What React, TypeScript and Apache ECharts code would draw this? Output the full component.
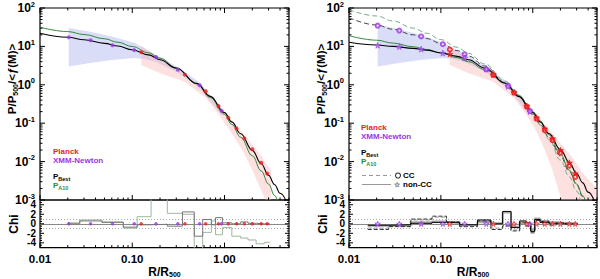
import React, { useEffect, useRef } from "react";
import * as echarts from "echarts";

const FONT = "'Liberation Sans', Arial, Helvetica, sans-serif";
const RED = "#ee1c1c";
const PURPLE = "#9b34e8";
const GREEN = "#2f8a3a";

// ---------- model curves ----------
const R_CURVE = [0.01, 0.02, 0.03, 0.05, 0.07, 0.1, 0.15, 0.2, 0.3, 0.5, 0.7, 1, 1.2, 1.5, 2, 2.5, 3, 3.5, 4, 5];
const BEST_ALL = [22, 17.3, 14.9, 12.0, 10.2, 8.2, 6.0, 4.5, 2.7, 1.09, 0.5, 0.189, 0.108, 0.053, 0.0196, 0.0088, 0.0044, 0.0025, 0.0015, 0.00062];
const A10_ALL = [31.5, 24.3, 20.4, 15.8, 12.8, 9.9, 6.85, 4.95, 2.79, 1.06, 0.47, 0.169, 0.093, 0.043, 0.0142, 0.0057, 0.0026, 0.0013, 0.0007, 0.00025];
const BEST_NONCC = [12.8, 10.9, 10.0, 8.9, 8.0, 6.8, 5.5, 4.5, 2.75, 1.1, 0.5, 0.19, 0.108, 0.054, 0.0205, 0.0095, 0.0049, 0.0028, 0.0016, 0.0006];
const A10_NONCC = [19, 14.5, 12.2, 9.8, 8.3, 6.8, 5.1, 4.0, 2.5, 1.12, 0.54, 0.2, 0.115, 0.05, 0.0156, 0.006, 0.0026, 0.0013, 0.00064, 0.0002];
const BEST_CC = [56, 36, 28, 20, 16, 12, 7.8, 5.6, 3.1, 1.15, 0.5, 0.175, 0.095, 0.043, 0.014, 0.0055, 0.0025, 0.0012, 0.0006, 0.0002];
const A10_CC = [90, 62, 46, 30, 22, 15, 9.5, 6.6, 3.5, 1.25, 0.52, 0.17, 0.09, 0.038, 0.011, 0.004, 0.0017, 0.0008, 0.0004, 0.0001];

// ---------- data points ----------
const R_XMM = [0.0205, 0.0353, 0.061, 0.105, 0.181, 0.312, 0.538, 0.93];
const XMM_ALL = [17.2, 14.4, 10.7, 8.0, 5.3, 2.47, 0.97, 0.21];
const XMM_NONCC = [10.7, 9.9, 8.5, 6.7, 5.0, 2.6, 0.91, 0.2];
const XMM_CC = [34.7, 25.9, 18.2, 11.4, 6.2, 2.5, 0.95, 0.21];
const R_PLANCK = [0.125, 0.372, 0.625, 0.861, 1.1, 1.35, 1.64, 2.0, 2.5, 2.9];
const PLANCK_ALL = [7.1, 1.84, 0.68, 0.28, 0.139, 0.073, 0.04, 0.021, 0.0093, 0.0049];
const PLANCK_NONCC = [6.3, 1.84, 0.64, 0.28, 0.14, 0.072, 0.04, 0.0197, 0.0093, 0.0049];
const PLANCK_CC = [8.3, 1.8, 0.62, 0.27, 0.13, 0.066, 0.036, 0.017, 0.0078, 0.004];

// ---------- dispersion bands ----------
const BAND_XMM_R = [0.0205, 0.035, 0.06, 0.105, 0.13, 0.18, 0.31, 0.54, 0.93];
const BAND_XMM_LO = [3.0, 3.7, 4.4, 5.0, 4.8, 4.0, 2.1, 0.8, 0.16];
const BAND_XMM_HI_L = [30, 24, 18, 12.5, 9.5, 6.0, 2.9, 1.15, 0.25];
const BAND_XMM_HI_R = [37, 28, 20, 12.5, 9.5, 6.5, 3.0, 1.15, 0.25];
const BAND_PL_R_L = [0.125, 0.2, 0.372, 0.625, 0.861, 1.1, 1.35, 1.64, 2.0, 2.5, 2.9, 3.2];
const BAND_PL_LO_L = [3.3, 2.0, 1.2, 0.45, 0.17, 0.075, 0.035, 0.016, 0.006, 0.0018, 0.0008, 0.0005];
const BAND_PL_HI_L = [10.5, 4.8, 1.9, 0.72, 0.3, 0.155, 0.085, 0.05, 0.028, 0.014, 0.008, 0.006];
const BAND_PL_R_R = [0.125, 0.2, 0.372, 0.625, 0.861, 1.1, 1.35, 1.64, 2.0, 2.5, 2.9, 3.5, 5];
const BAND_PL_LO_R = [3.3, 2.0, 1.2, 0.45, 0.16, 0.06, 0.02, 0.006, 0.0012, 0.0003, 0.0001, 0.00005, 0.00002];
const BAND_PL_HI_R = [10, 4.6, 1.95, 0.72, 0.31, 0.16, 0.09, 0.055, 0.03, 0.016, 0.01, 0.005, 0.002];

// ---------- chi residual steps ----------
const CHI_EDGES_L = [0.02, 0.027, 0.047, 0.08, 0.113, 0.16, 0.24, 0.35, 0.47, 0.58, 0.72, 0.8, 0.95, 1.2, 1.5, 1.8, 2.2, 2.7, 3.1];
const CHI_BEST_L = [0.0, 0.6, 0.3, -0.7, -0.2, -0.1, -0.5, 2.5, -2.6, 0.9, -0.2, 1.3, 0.2, 0.0, 0.4, 0.1, 0.0, 0.0];
const CHI_A10_L = [0.2, 0.8, 0.4, -0.9, 1.5, 8, 2.2, 2.0, -8, -1.8, 0.6, -2.3, -0.8, -2.6, -3.0, -3.4, -4.2, -3.9];
const CHI_EDGES_R = [0.016, 0.027, 0.047, 0.08, 0.115, 0.16, 0.25, 0.35, 0.47, 0.58, 0.72, 0.85, 0.95, 1.05, 1.2, 1.5, 1.8, 2.2, 2.7, 3.1];
const CHI_BEST_NONCC = [-0.3, -0.2, 0.1, 0.3, 0.2, -0.2, 0.8, 0.0, 2.6, -0.8, 0.6, 0.2, -1.6, 0.9, 0.3, 0.1, 0.0, 0.0, 0.0];
const CHI_BEST_CC = [-1.2, -0.6, 1.0, 1.6, 0.4, -0.6, 0.6, -1.2, -0.4, -1.5, 0.2, -0.5, -1.9, 0.7, 0.5, -0.2, 0.2, 0.0, 0.0];
const CHI_A10_NONCC = [-0.4, -0.4, 0.3, 0.5, 0.3, -0.3, 0.3, 0.1, 2.4, -0.6, 0.3, 0.0, -1.2, 1.1, 0.6, 0.3, 0.2, 0.1, 0.0];
const CHI_A10_CC = [-0.9, -0.5, 0.8, 1.4, 0.5, -0.2, 0.5, -0.9, -0.5, -1.3, 0.1, -0.4, -1.5, 0.8, 0.4, -0.3, 0.1, 0.0, 0.0];

// ---------- ticks ----------
const X_MAJOR = [0.01, 0.1, 1];
const X_MINOR = [0.02, 0.03, 0.04, 0.05, 0.06, 0.07, 0.08, 0.09, 0.2, 0.3, 0.4, 0.5, 0.6, 0.7, 0.8, 0.9, 2, 3, 4, 5];
const Y_MAJOR = [0.001, 0.01, 0.1, 1, 10, 100];
const MANTISSA = [2, 3, 4, 5, 6, 7, 8, 9];
const Y_MINOR = [-3, -2, -1, 0, 1].flatMap((e) => MANTISSA.map((m) => +(m * Math.pow(10, e)).toPrecision(3)));
const CHI_MAJOR = [-4, -2, 0, 2, 4];
const CHI_MINOR = [-4.5, -3.5, -3, -2.5, -1.5, -1, -0.5, 0.5, 1, 1.5, 2.5, 3, 3.5, 4.5];

const STAR = "path://M50,0 L61,35 L98,35 L68,57 L79,91 L50,70 L21,91 L32,57 L2,35 L39,35 Z";

const pairs = (xs: number[], ys: number[]) => xs.map((x, i) => [x, ys[i]]);

function xTicks(ax: number, refY: number, vals: number[], len: number, top: boolean, bottom: boolean) {
  return {
    type: "custom",
    xAxisIndex: ax,
    yAxisIndex: ax,
    silent: true,
    clip: false,
    z: 10,
    data: vals.map((v) => [v, refY]),
    renderItem: (params: any, api: any) => {
      const cs = params.coordSys;
      const px = api.coord([api.value(0), api.value(1)])[0];
      const children: any[] = [];
      const st = { stroke: "#000", lineWidth: 1 };
      if (bottom) children.push({ type: "line", shape: { x1: px, y1: cs.y + cs.height, x2: px, y2: cs.y + cs.height - len }, style: st });
      if (top) children.push({ type: "line", shape: { x1: px, y1: cs.y, x2: px, y2: cs.y + len }, style: st });
      return { type: "group", children };
    },
  };
}

function yTicks(ax: number, refX: number, vals: number[], len: number) {
  return {
    type: "custom",
    xAxisIndex: ax,
    yAxisIndex: ax,
    silent: true,
    clip: false,
    z: 10,
    data: vals.map((v) => [refX, v]),
    renderItem: (params: any, api: any) => {
      const cs = params.coordSys;
      const py = api.coord([api.value(0), api.value(1)])[1];
      const st = { stroke: "#000", lineWidth: 1 };
      return {
        type: "group",
        children: [
          { type: "line", shape: { x1: cs.x, y1: py, x2: cs.x + len, y2: py }, style: st },
          { type: "line", shape: { x1: cs.x + cs.width, y1: py, x2: cs.x + cs.width - len, y2: py }, style: st },
        ],
      };
    },
  };
}

function band(ax: number, xs: number[], lo: number[], hi: number[], color: string) {
  return {
    type: "custom",
    xAxisIndex: ax,
    yAxisIndex: ax,
    silent: true,
    clip: true,
    z: 1,
    data: xs.map((x, i) => [x, lo[i], hi[i]]),
    encode: { x: 0, y: [1, 2] },
    renderItem: (params: any, api: any) => {
      if (params.dataIndex !== 0) return null;
      const topPts = xs.map((x, i) => api.coord([x, hi[i]]));
      const botPts = xs.map((x, i) => api.coord([x, lo[i]])).reverse();
      return { type: "polygon", shape: { points: topPts.concat(botPts) }, style: { fill: color } };
    },
  };
}

function curve(ax: number, ys: number[], color: string, width: number, dashed = false) {
  return {
    type: "line",
    xAxisIndex: ax,
    yAxisIndex: ax,
    data: pairs(R_CURVE, ys),
    showSymbol: false,
    symbol: "none",
    smooth: 0.4,
    smoothMonotone: "x",
    silent: true,
    z: 3,
    lineStyle: { color, width, type: dashed ? [5, 3] : "solid" },
  };
}

function points(ax: number, xs: number[], ys: number[], color: string, symbol: string, size: number, fill?: string) {
  return {
    type: "scatter",
    xAxisIndex: ax,
    yAxisIndex: ax,
    data: pairs(xs, ys),
    symbol,
    symbolSize: size,
    silent: true,
    z: 5,
    itemStyle: { color: fill || color, borderColor: color, borderWidth: symbol === "circle" ? 0 : 0.8 },
  };
}

function steps(ax: number, edges: number[], vals: number[], color: string, width: number, dashed = false, withRef = false) {
  const s: any = {
    type: "line",
    xAxisIndex: ax,
    yAxisIndex: ax,
    step: "end",
    data: edges.map((e, i) => [e, vals[Math.min(i, vals.length - 1)]]),
    showSymbol: false,
    symbol: "none",
    silent: true,
    z: 3,
    lineStyle: { color, width, type: dashed ? [4, 2] : "solid" },
  };
  if (withRef) {
    s.markLine = {
      silent: true,
      symbol: "none",
      label: { show: false },
      z: 2,
      data: [
        { yAxis: 0, lineStyle: { color: "#888", width: 1, type: "solid" } },
        { yAxis: 1, lineStyle: { color: "#999", width: 0.8, type: [1, 2] } },
        { yAxis: -1, lineStyle: { color: "#999", width: 0.8, type: [1, 2] } },
      ],
    };
  }
  return s;
}

const isDecade = (v: number) => Math.abs(Math.log10(v) - Math.round(Math.log10(v))) < 1e-6;

function xAxis(grid: number, labels: boolean) {
  return {
    type: "log",
    logBase: 10,
    gridIndex: grid,
    min: 0.01,
    max: 5,
    axisLine: { show: false },
    axisTick: { show: false },
    splitLine: { show: false },
    axisLabel: {
      show: labels,
      showMaxLabel: false,
      margin: 5,
      color: "#000",
      fontFamily: FONT,
      fontWeight: "bold",
      fontSize: 11.5,
      formatter: (v: number) => (isDecade(v) ? v.toFixed(2) : ""),
    },
    name: labels ? "R/R{s|500}" : "",
    nameLocation: "middle",
    nameGap: 15,
    nameTextStyle: {
      color: "#000",
      fontFamily: FONT,
      fontWeight: "bold",
      fontSize: 12,
      rich: { s: { fontSize: 7, fontFamily: FONT, fontWeight: "bold", color: "#000", padding: [6, 0, 0, 0] } },
    },
  };
}

function yLogAxis(grid: number) {
  return {
    type: "log",
    logBase: 10,
    gridIndex: grid,
    min: 0.001,
    max: 100,
    axisLine: { show: false },
    axisTick: { show: false },
    splitLine: { show: false },
    axisLabel: {
      margin: 5,
      formatter: (v: number) => `{b|10}{s|${Math.round(Math.log10(v))}}`,
      rich: {
        b: { fontSize: 12, fontWeight: "bold", fontFamily: FONT, color: "#000" },
        s: { fontSize: 7.5, fontWeight: "bold", fontFamily: FONT, color: "#000", padding: [0, 0, 8, 0] },
      },
    },
  };
}

function yChiAxis(grid: number) {
  return {
    type: "value",
    gridIndex: grid,
    min: -5,
    max: 5,
    axisLine: { show: false },
    axisTick: { show: false },
    splitLine: { show: false },
    axisLabel: {
      margin: 4,
      color: "#000",
      fontFamily: FONT,
      fontWeight: "bold",
      fontSize: 10,
      formatter: (v: number) => (Math.round(v) === v && v % 2 === 0 ? String(v) : ""),
    },
  };
}

const txt = (x: number, y: number, text: string, color: string, size = 8, rich: any = undefined, extra: any = {}) => ({
  type: "text",
  x,
  y,
  z: 20,
  ...extra,
  style: {
    text,
    fill: color,
    font: `bold ${size}px ${FONT}`,
    verticalAlign: "middle",
    align: "left",
    ...(rich ? { rich } : {}),
    ...(extra.style || {}),
  },
});

const subRich = (color: string) => ({ s: { fill: color, fontSize: 5.5, fontWeight: "bold", fontFamily: FONT, padding: [4, 0, 0, 0] } });

function buildOption() {
  const grids = [
    { left: 40, top: 5, width: 249, height: 195 },
    { left: 40, top: 200, width: 249, height: 50 },
    { left: 349, top: 5, width: 248, height: 195 },
    { left: 349, top: 200, width: 248, height: 50 },
  ].map((g) => ({ ...g, show: true, borderColor: "#000", borderWidth: 1.2, backgroundColor: "transparent" }));

  const series: any[] = [
    // left main
    band(0, BAND_XMM_R, BAND_XMM_LO, BAND_XMM_HI_L, "rgba(165,175,235,0.42)"),
    band(0, BAND_PL_R_L, BAND_PL_LO_L, BAND_PL_HI_L, "rgba(250,175,175,0.38)"),
    curve(0, A10_ALL, GREEN, 1),
    curve(0, BEST_ALL, "#000", 1.1),
    points(0, R_XMM, XMM_ALL, PURPLE, "circle", 4),
    points(0, R_PLANCK, PLANCK_ALL, RED, "circle", 4),
    // left chi
    steps(1, CHI_EDGES_L, CHI_A10_L, "#9db89d", 1),
    steps(1, CHI_EDGES_L, CHI_BEST_L, "#777", 1, false, true),
    points(1, R_XMM, R_XMM.map(() => 0), PURPLE, "circle", 3.5),
    points(1, R_PLANCK, R_PLANCK.map(() => 0), RED, "circle", 3.5),
    // right main
    band(2, BAND_XMM_R, BAND_XMM_LO, BAND_XMM_HI_R, "rgba(165,175,235,0.42)"),
    band(2, BAND_PL_R_R, BAND_PL_LO_R, BAND_PL_HI_R, "rgba(250,175,175,0.38)"),
    curve(2, A10_CC, "#6aa07a", 0.9, true),
    curve(2, BEST_CC, "#333", 0.9, true),
    curve(2, A10_NONCC, GREEN, 1),
    curve(2, BEST_NONCC, "#000", 1.1),
    points(2, R_XMM, XMM_CC, PURPLE, "emptyCircle", 4),
    points(2, R_PLANCK, PLANCK_CC, RED, "emptyCircle", 4),
    points(2, R_XMM, XMM_NONCC, PURPLE, STAR, 6, "rgba(185,130,240,0.9)"),
    points(2, R_PLANCK, PLANCK_NONCC, RED, STAR, 6, RED),
    // right chi
    steps(3, CHI_EDGES_R, CHI_A10_NONCC, "#aaa", 2, false, true),
    steps(3, CHI_EDGES_R, CHI_A10_CC, "#999", 1, true),
    steps(3, CHI_EDGES_R, CHI_BEST_CC, "#222", 0.9, true),
    steps(3, CHI_EDGES_R, CHI_BEST_NONCC, "#000", 1),
    points(3, R_XMM, R_XMM.map(() => 0), PURPLE, STAR, 5.5, "rgba(200,160,245,0.9)"),
    points(3, R_PLANCK, R_PLANCK.map(() => 0), RED, STAR, 5.5, "rgba(245,150,150,0.9)"),
  ];

  for (const [mainAx, chiAx] of [[0, 1], [2, 3]]) {
    series.push(xTicks(mainAx, 1, X_MAJOR, 5, true, true));
    series.push(xTicks(mainAx, 1, X_MINOR, 2.5, true, true));
    series.push(yTicks(mainAx, 0.1, Y_MAJOR, 5));
    series.push(yTicks(mainAx, 0.1, Y_MINOR, 2.5));
    series.push(xTicks(chiAx, 0, X_MAJOR, 5, false, true));
    series.push(xTicks(chiAx, 0, X_MINOR, 2.5, false, true));
    series.push(yTicks(chiAx, 0.1, CHI_MAJOR, 4));
    series.push(yTicks(chiAx, 0.1, CHI_MINOR, 2));
  }

  const titleRich = { s: { fill: "#000", fontSize: 7, fontWeight: "bold", fontFamily: FONT, padding: [6, 0, 0, 0] } };
  const graphic: any[] = [];
  for (const dx of [0, 309]) {
    graphic.push(
      txt(12 + dx, 79, "P/P{s|500}/<ƒ(M)>", "#000", 11.5, titleRich, {
        rotation: Math.PI / 2,
        style: { align: "center" },
      })
    );
    graphic.push(txt(14 + dx, 224, "Chi", "#000", 12, undefined, { rotation: Math.PI / 2, style: { align: "center" } }));
  }
  // left legend
  graphic.push(txt(53, 151.5, "Planck", RED));
  graphic.push(txt(53, 160.5, "XMM-Newton", PURPLE));
  graphic.push(txt(53, 176.5, "P{s|Best}", "#000", 8, subRich("#000")));
  graphic.push(txt(53, 185.5, "P{s|A10}", GREEN, 8, subRich(GREEN)));
  // right legend
  graphic.push(txt(361, 127, "Planck", RED));
  graphic.push(txt(361, 136, "XMM-Newton", PURPLE));
  graphic.push(txt(361, 152.5, "P{s|Best}", "#000", 8, subRich("#000")));
  graphic.push(txt(361, 161.5, "P{s|A10}", GREEN, 8, subRich(GREEN)));
  graphic.push({ type: "line", z: 20, shape: { x1: 362, y1: 175.5, x2: 391, y2: 175.5 }, style: { stroke: "#999", lineWidth: 1, lineDash: [4, 3] } });
  graphic.push({ type: "line", z: 20, shape: { x1: 362, y1: 184.5, x2: 391, y2: 184.5 }, style: { stroke: "#999", lineWidth: 1 } });
  graphic.push({ type: "circle", z: 20, shape: { cx: 398, cy: 175.5, r: 2.5 }, style: { fill: "none", stroke: "#333", lineWidth: 1.1 } });
  graphic.push(txt(403, 175.5, "CC", "#000"));
  graphic.push(txt(394, 184.5, "☆", "#555", 7));
  graphic.push(txt(403, 184.5, "non-CC", "#000"));

  return {
    animation: false,
    backgroundColor: "#fff",
    grid: grids,
    xAxis: [xAxis(0, false), xAxis(1, true), xAxis(2, false), xAxis(3, true)],
    yAxis: [yLogAxis(0), yChiAxis(1), yLogAxis(2), yChiAxis(3)],
    series,
    graphic,
  };
}

export default function App() {
  const ref = useRef<HTMLDivElement>(null);
  useEffect(() => {
    if (!ref.current) return;
    const chart = echarts.init(ref.current, null, { renderer: "svg" });
    chart.setOption(buildOption() as any);
    return () => chart.dispose();
  }, []);
  return <div ref={ref} style={{ position: "absolute", left: 0, top: 0, width: 600, height: 279 }} />;
}
